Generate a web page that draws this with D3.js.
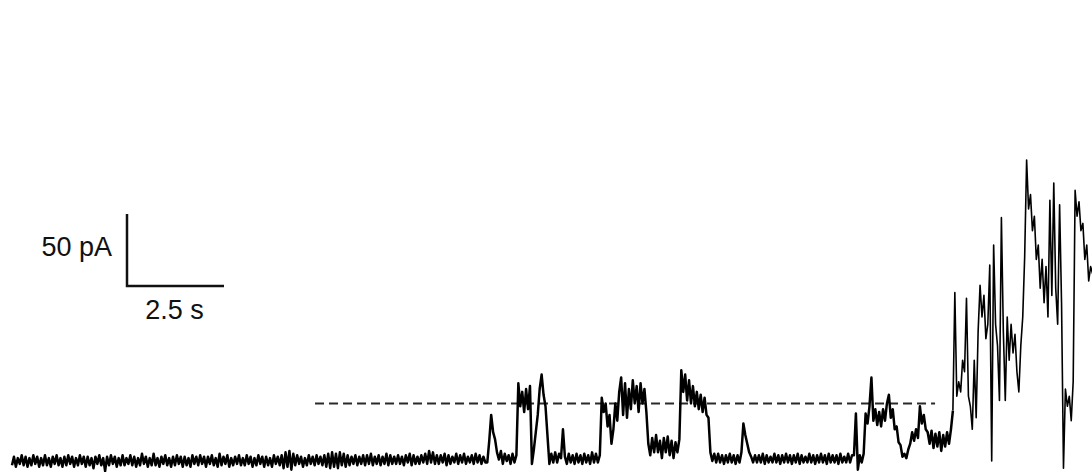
<!DOCTYPE html>
<html>
<head>
<meta charset="utf-8">
<script src="https://cdn.jsdelivr.net/npm/d3@7"></script>
<style>
    html, body { margin: 0; padding: 0; background: #fff; }
    svg { display: block; }
    .label { font-family: "Liberation Sans", Arial, sans-serif; font-size: 27px; fill: #111; }
</style>
</head>
<body>
<div id="chart"></div>
<script>
// Recording, sampled every 50 ms, current in pA (baseline = 0)
const sampleInterval = 0.05; // s

// 0 - 12.2 s : quiet baseline
const quietPA = [
    -3,3,-4,2,-2,4,-3,3,-4,2,-3,4,-2,3,-4,2,-3,4,-3,2,
    -4,3,-2,4,-3,2,-4,3,-3,4,-2,3,-4,2,-3,4,-2,3,-4,3,
    -3,2,-5,3,-2,4,-3,2,-7,3,-3,4,-2,3,-4,2,-3,4,-3,2,
    -2,4,-3,3,-4,2,-3,5,-2,3,-4,2,-3,5,-3,2,-4,3,-2,4,
    -3,2,-4,3,-3,4,-2,3,-4,3,-3,2,-4,4,-2,3,-3,4,-2,3,
    -4,3,-2,4,-3,2,-4,5,-3,3,-2,4,-4,2,-3,3,-2,4,-3,2,
    -3,4,-2,3,-4,2,-3,4,-2,3,-4,3,-3,2,-4,4,-2,3,-3,4,
    -5,6,-4,7,-6,5,-3,4,-2,3,-4,2,-3,4,-2,3,-3,4,-2,3,
    -3,4,-4,5,-5,6,-4,5,-5,6,-3,5,-4,4,-3,3,-2,4,-3,3,
    -2,4,-3,4,-2,5,-3,3,-2,4,-3,3,-2,5,-3,4,-2,3,-2,4,
    -2,3,-3,4,-1,5,-3,4,-2,3,-2,4,-1,5,-2,7,-1,6,-2,4,
    -2,4,-1,5,-3,4,-2,3,-1,5,-2,4,-1,5,-2,3,-1,4,-2,5,
    -1,4,-2,3,-1
];

// 12.25 - 19.1 s : first openings
const burstsPA = [
    -1,14,32,20,15,6,1,7,-2,5,
    0,4,-2,5,-1,4,54,38,48,34,
    50,36,52,-2,8,20,32,50,60,46,
    38,18,-2,5,-1,6,-1,5,2,22,
    3,-2,5,-1,4,-2,5,-1,4,-2,
    5,-1,4,-2,6,-1,5,-1,4,44,
    34,40,24,32,12,22,40,28,48,58,
    32,54,30,50,36,56,40,52,34,54,
    40,50,34,12,4,16,6,18,6,14,
    2,16,6,17,4,14,2,13,6,15,
    63,48,60,42,56,40,52,38,48,36,
    46,34,44,32,30,6,0,5,-1,5,
    -1,4,-2,4,-1,5,-1,4,-2,4,
    -1,6,26,18,12,6,3,-1
];

// 19.15 - 21.65 s : closed again
const midBaselinePA = [
    4,-1,4,-1,5,-2,4,-1,3,-1,
    5,-1,4,-2,4,-1,5,-1,4,-2,
    4,-1,5,-2,4,-1,3,-1,5,-1,
    4,-2,4,-1,5,-1,4,-2,5,-1,
    4,-1,4,-2,5,-1,3,-1,5,-1,
    4
];

// 21.7 - 24.2 s : partial openings
const lateBurstsPA = [
    4,33,-6,4,-1,5,33,26,38,58,
    28,36,25,34,24,36,28,40,46,30,
    36,22,24,13,11,3,5,2,8,12,
    20,14,22,16,38,26,32,22,20,12,
    21,9,19,10,20,7,18,10,20,12,
    22
];

// 24.25 s onward : multiple channels
const rampPA = [
    35,117,45,55,48,70,62,113,45,38,
    22,70,30,90,122,100,115,85,95,136,
    0,150,95,80,42,169,90,42,100,70,
    95,75,88,62,48,80,100,142,209,175,
    185,160,170,140,150,120,140,110,135,100,
    181,115,193,120,95,178,110,-5,50,38,
    45,28,55,188,170,180,160,165,140,150,
    125,135,130
];

const dashedLevel = 40;          // pA
const dashedSpan = [7.81, 23.79]; // s
const scaleBarPA = 50;
const scaleBarSec = 2.5;
const scaleBarLabels = ["50 pA", "2.5 s"];

// ---- layout ----
const width = 1092;
const height = 472;
const traceStartX = 12;
const pxPerSec = 38.8;
const baselineY = 461;
const pxPerPA = 72 / 50;
const barCorner = [2.964, 121.5]; // s, pA

const xScale = d3.scaleLinear()
    .domain([0, 28])
    .range([traceStartX, traceStartX + 28 * pxPerSec]);

const yScale = d3.scaleLinear()
    .domain([0, 320])
    .range([baselineY, baselineY - 320 * pxPerPA]);

const trace = [].concat(quietPA, burstsPA, midBaselinePA, lateBurstsPA, rampPA)
    .map((v, i) => ({ t: i * sampleInterval, pA: v }));

// the dense low-amplitude part reads heavier than the large sweeps at the end
const split = trace.length - rampPA.length;
const pieces = [
    { pts: trace.slice(0, split + 1), w: 2.5 },
    { pts: trace.slice(split), w: 1.6 }
];

const svg = d3.select("#chart")
    .append("svg")
        .attr("width", width)
        .attr("height", height);

// Dashed reference level
svg.append("line")
    .attr("x1", xScale(dashedSpan[0]))
    .attr("x2", xScale(dashedSpan[1]))
    .attr("y1", yScale(dashedLevel))
    .attr("y2", yScale(dashedLevel))
    .attr("stroke", "#2a2a2a")
    .attr("stroke-width", 2)
    .attr("stroke-dasharray", "9,5");

// Current trace
const line = d3.line()
    .x(d => xScale(d.t))
    .y(d => yScale(d.pA));

svg.selectAll("path.trace")
    .data(pieces)
    .enter()
    .append("path")
        .attr("class", "trace")
        .attr("d", d => line(d.pts))
        .attr("fill", "none")
        .attr("stroke", "#000")
        .attr("stroke-width", d => d.w)
        .attr("stroke-linejoin", "round");

// Scale bar
const bar = svg.append("g");
const cx = xScale(barCorner[0]);
const cy = yScale(barCorner[1]);
const ex = xScale(barCorner[0] + scaleBarSec);
bar.append("path")
    .attr("d", `M${cx},${yScale(barCorner[1] + scaleBarPA)}V${cy}H${ex}`)
    .attr("fill", "none")
    .attr("stroke", "#111")
    .attr("stroke-width", 2.5);

bar.append("text")
    .attr("class", "label")
    .attr("x", cx - 15)
    .attr("y", cy - 30)
    .attr("text-anchor", "end")
    .text(scaleBarLabels[0]);

bar.append("text")
    .attr("class", "label")
    .attr("x", (cx + ex) / 2 - 1)
    .attr("y", cy + 33)
    .attr("text-anchor", "middle")
    .text(scaleBarLabels[1]);
</script>
</body>
</html>
